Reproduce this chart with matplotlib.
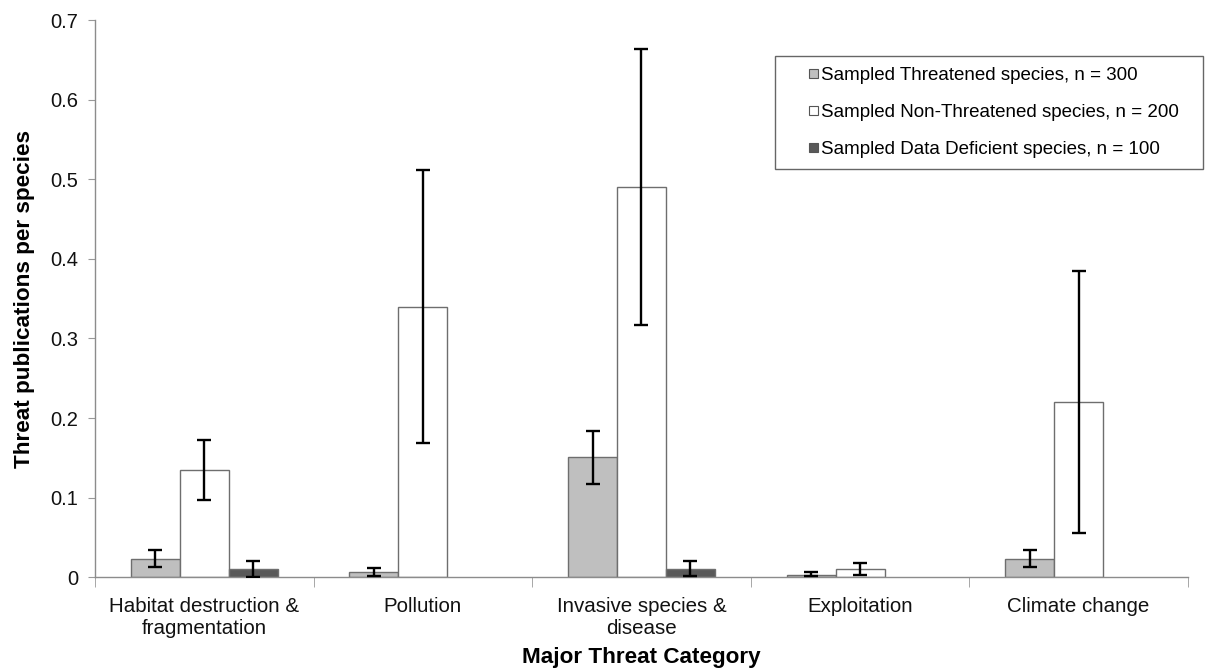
import matplotlib
matplotlib.use("Agg")
import matplotlib.pyplot as plt
import matplotlib.patches as mpatches
from matplotlib.legend_handler import HandlerBase
import numpy as np

plt.rcParams['font.family'] = ['Liberation Sans', 'DejaVu Sans']

categories = ["Habitat destruction &\nfragmentation", "Pollution",
              "Invasive species &\ndisease", "Exploitation", "Climate change"]
series_names = ["Sampled Threatened species, n = 300",
                "Sampled Non-Threatened species, n = 200",
                "Sampled Data Deficient species, n = 100"]

threatened = [0.023, 0.007, 0.151, 0.003, 0.023]
threatened_lo = [0.013, 0.002, 0.117, 0.0015, 0.013]
threatened_hi = [0.034, 0.012, 0.184, 0.006, 0.034]

non_threatened = [0.135, 0.340, 0.490, 0.010, 0.220]
non_threatened_lo = [0.097, 0.169, 0.317, 0.0025, 0.056]
non_threatened_hi = [0.172, 0.511, 0.663, 0.0176, 0.385]

data_deficient = [0.010, None, 0.0105, None, None]
data_deficient_lo = [0.0005, None, 0.001, None, None]
data_deficient_hi = [0.0205, None, 0.0205, None, None]

fills = ["#BFBFBF", "#FFFFFF", "#595959"]

fig = plt.figure(figsize=(12.06, 6.70), dpi=100)
ax = fig.add_axes([0.0788, 0.1384, 0.9062, 0.8317])

x = np.arange(len(categories))
w = 0.224
offsets = [-w, 0, w]
series = [(threatened, threatened_lo, threatened_hi),
          (non_threatened, non_threatened_lo, non_threatened_hi),
          (data_deficient, data_deficient_lo, data_deficient_hi)]

for i, (vals, lo, hi) in enumerate(series):
    pos = x + offsets[i]
    keep = [j for j, v in enumerate(vals) if v is not None]
    ax.bar(pos[keep], [vals[j] for j in keep], width=w, color=fills[i],
           edgecolor="#6E6E6E", linewidth=1.0, zorder=2)
    for j in keep:
        v, l, h = vals[j], lo[j], hi[j]
        ax.errorbar([pos[j]], [v], yerr=[[v - l], [h - v]], fmt='none',
                    ecolor='black', elinewidth=1.7, capsize=5,
                    capthick=1.7, zorder=3)

ax.set_xlim(-0.5, len(categories) - 0.5)
ax.set_ylim(0, 0.7)
ax.set_yticks(np.arange(0, 0.71, 0.1))
ax.set_yticklabels(["0", "0.1", "0.2", "0.3", "0.4", "0.5", "0.6", "0.7"])
ax.set_xticks(x)
ax.set_xticklabels(categories, fontsize=14.8, color="#111111", linespacing=1.25)
ax.set_xticks(np.arange(-0.5, len(categories)), minor=True)
ax.tick_params(axis='x', which='major', length=0, pad=14)
ax.tick_params(axis='x', which='minor', length=7, color="#999999", direction='out')
ax.tick_params(axis='y', length=5, color="#999999", labelsize=14.5,
               labelcolor="#111111", pad=7)

for s in ["top", "right"]:
    ax.spines[s].set_visible(False)
for s in ["left", "bottom"]:
    ax.spines[s].set_color("#8C8C8C")
    ax.spines[s].set_linewidth(1.0)

ax.set_ylabel("Threat publications per species", fontsize=16.2,
              fontweight='bold', labelpad=11)
ax.set_xlabel("Major Threat Category", fontsize=16.2, fontweight='bold',
              labelpad=6)


class SquareHandler(HandlerBase):
    def create_artists(self, legend, orig_handle, xdescent, ydescent,
                       width, height, fontsize, trans):
        s = 6.5
        p = mpatches.Rectangle((-xdescent + width - s, -ydescent + (height - s) / 2),
                               s, s, facecolor=orig_handle.get_facecolor(),
                               edgecolor="#555555", linewidth=0.8,
                               transform=trans)
        return [p]


handles = [mpatches.Patch(facecolor=c) for c in fills]
leg = ax.legend(handles, series_names,
                handler_map={mpatches.Patch: SquareHandler()},
                loc='upper left', bbox_to_anchor=(0.622, 0.4, 0.3916, 0.535),
                mode='expand', fontsize=13.5, frameon=True, fancybox=False,
                edgecolor="#404040", handlelength=1.75, handleheight=0.7,
                handletextpad=0.15, labelspacing=1.08, borderpad=0.55,
                borderaxespad=0)
leg.get_frame().set_linewidth(1.0)

fig.savefig("out.png", dpi=100)
